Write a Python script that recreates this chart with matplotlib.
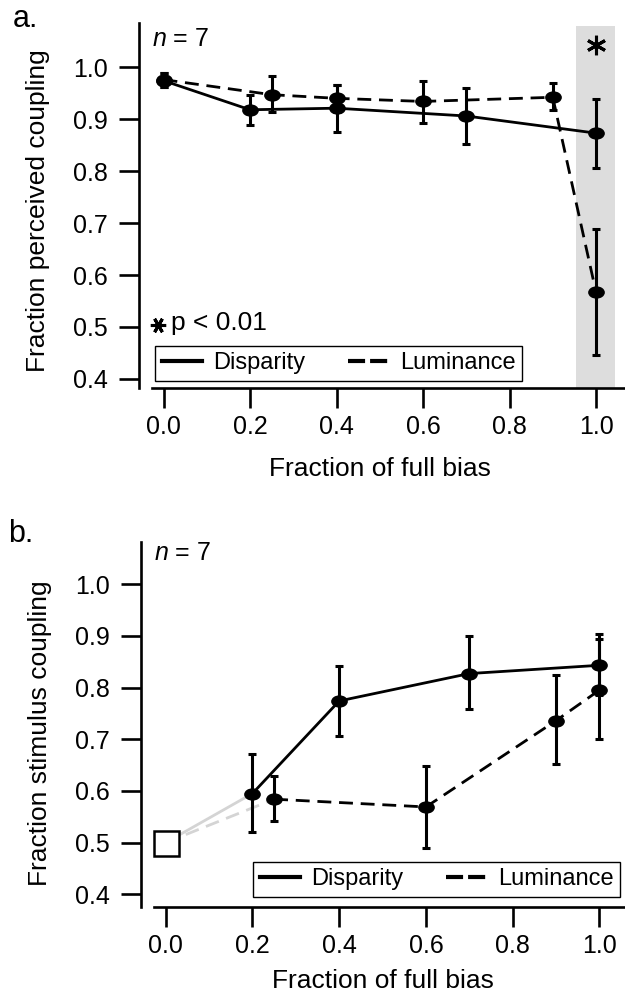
import matplotlib.pyplot as plt
import numpy as np
from matplotlib.lines import Line2D
from matplotlib.path import Path
from matplotlib.transforms import Affine2D

plt.rcParams['font.family'] = ['Liberation Sans', 'DejaVu Sans']
plt.rcParams['mathtext.fontset'] = 'custom'
plt.rcParams['mathtext.it'] = 'Liberation Sans:italic'
plt.rcParams['mathtext.rm'] = 'Liberation Sans'

# panel a: fraction perceived coupling
a_disp_x = [0.0, 0.2, 0.4, 0.7, 1.0]
a_disp_y = [0.974, 0.918, 0.921, 0.906, 0.873]
a_disp_lo = [0.962, 0.889, 0.876, 0.853, 0.806]
a_disp_hi = [0.988, 0.947, 0.966, 0.960, 0.939]

a_lum_x = [0.0, 0.25, 0.4, 0.6, 0.9, 1.0]
a_lum_y = [0.976, 0.947, 0.940, 0.934, 0.942, 0.567]
a_lum_lo = [0.962, 0.913, 0.914, 0.893, 0.918, 0.447]
a_lum_hi = [0.989, 0.982, 0.966, 0.974, 0.970, 0.688]

# panel b: fraction stimulus coupling
b_disp_x = [0.2, 0.4, 0.7, 1.0]
b_disp_y = [0.595, 0.774, 0.827, 0.843]
b_disp_lo = [0.521, 0.707, 0.758, 0.785]
b_disp_hi = [0.671, 0.842, 0.899, 0.903]

b_lum_x = [0.25, 0.6, 0.9, 1.0]
b_lum_y = [0.584, 0.569, 0.736, 0.795]
b_lum_lo = [0.542, 0.489, 0.652, 0.701]
b_lum_hi = [0.629, 0.649, 0.824, 0.893]

chance_x, chance_y = 0.0, 0.5
sig_x = 1.0  # significant condition in panel a

xticks = [0.0, 0.2, 0.4, 0.6, 0.8, 1.0]
yticks = [0.4, 0.5, 0.6, 0.7, 0.8, 0.9, 1.0]
labels = ['Disparity', 'Luminance']

# slightly flattened dot, as in the original figure
ell = Path.unit_circle().transformed(Affine2D().scale(1.4, 1.0))
DASH = (5.0, 2.8)
LW = 2.0


def series(ax, x, y, lo, hi, dashed):
    y = np.array(y)
    err = [y - np.array(lo), np.array(hi) - y]
    ax.errorbar(x, y, yerr=err, fmt='none', ecolor='k', elinewidth=2.2,
                capsize=3.2, capthick=2.2, zorder=3)
    ln, = ax.plot(x, y, color='k', lw=LW, marker=ell, ms=11,
                  mfc='k', mec='k', zorder=4)
    if dashed:
        ln.set_dashes(DASH)


def style(ax, xlim, ylim, off):
    ax.set_xlim(*xlim)
    ax.set_ylim(*ylim)
    for s in ['top', 'right']:
        ax.spines[s].set_visible(False)
    ax.spines['left'].set_position(('outward', off))
    ax.spines['left'].set_linewidth(1.9)
    ax.spines['bottom'].set_linewidth(1.9)
    ax.set_xticks(xticks)
    ax.set_xticklabels(['%.1f' % v for v in xticks])
    ax.set_yticks(yticks)
    ax.set_yticklabels(['%.1f' % v for v in yticks])
    ax.tick_params(axis='both', direction='out', length=14.5, width=1.9,
                   labelsize=18)
    ax.tick_params(axis='y', pad=8)
    ax.tick_params(axis='x', pad=5)


def legend(ax, anchor):
    h = [Line2D([], [], color='k', lw=3),
         Line2D([], [], color='k', lw=3, dashes=(4.1, 1.2))]
    leg = ax.legend(h, labels, loc='lower left', bbox_to_anchor=anchor,
                    ncol=2, fontsize=17, frameon=True, fancybox=False,
                    edgecolor='k', framealpha=1, handlelength=1.7,
                    handletextpad=0.5, columnspacing=1.8, borderpad=0.28,
                    borderaxespad=0)
    leg.get_frame().set_linewidth(1.0)


fig = plt.figure(figsize=(6.25, 9.94), dpi=100)
ax1 = fig.add_axes([0.2432, 0.6097, 0.7568, 0.3672])
ax2 = fig.add_axes([0.2464, 0.0878, 0.7536, 0.3672])

# ---- panel a
style(ax1, (-0.0266, 1.067), (0.3827, 1.085), 9.1)
ax1.fill_between([sig_x - 0.046, sig_x + 0.044], 0.3827, 1.079,
                 color='#dddddd', lw=0, zorder=0)
series(ax1, a_disp_x, a_disp_y, a_disp_lo, a_disp_hi, False)
series(ax1, a_lum_x, a_lum_y, a_lum_lo, a_lum_hi, True)
ax1.plot([sig_x], [1.043], marker=(6, 2, 0), ms=14, mew=2.2, color='k')
ax1.plot([0.013], [0.173], marker=(6, 2, 90), ms=11, mew=2.2, color='k',
         transform=ax1.transAxes, clip_on=False)
ax1.text(0.040, 0.159, 'p < 0.01', transform=ax1.transAxes, fontsize=19,
         va='baseline')
ax1.text(0.0, 0.937, '$n$ = 7', transform=ax1.transAxes, fontsize=18,
         va='baseline')
legend(ax1, (0.0063, 0.0192))
ax1.set_ylabel('Fraction perceived coupling', fontsize=19)
ax1.yaxis.set_label_coords(-0.24, 0.485)
ax1.yaxis.label.set(va='center', ha='center')
ax1.set_xlabel('Fraction of full bias', fontsize=19)
ax1.xaxis.set_label_coords(0.482, -0.241)
ax1.xaxis.label.set_va('baseline')

# ---- panel b
style(ax2, (-0.027, 1.059), (0.376, 1.082), 9.6)
ax2.plot([chance_x, b_disp_x[0]], [chance_y, b_disp_y[0]], color='#d4d4d4',
         lw=LW, zorder=1)
ln, = ax2.plot([chance_x, b_lum_x[0]], [chance_y, b_lum_y[0]],
               color='#d4d4d4', lw=LW, zorder=1)
ln.set_dashes(DASH)
ax2.plot([chance_x], [chance_y], marker='s', ms=18, mfc='white', mec='k',
         mew=1.8, zorder=5, clip_on=False)
series(ax2, b_disp_x, b_disp_y, b_disp_lo, b_disp_hi, False)
series(ax2, b_lum_x, b_lum_y, b_lum_lo, b_lum_hi, True)
ax2.text(0.0, 0.950, '$n$ = 7', transform=ax2.transAxes, fontsize=18,
         va='baseline')
legend(ax2, (0.2102, 0.0274))
ax2.set_ylabel('Fraction stimulus coupling', fontsize=19)
ax2.yaxis.set_label_coords(-0.243, 0.476)
ax2.yaxis.label.set(va='center', ha='center')
ax2.set_xlabel('Fraction of full bias', fontsize=19)
ax2.xaxis.set_label_coords(0.486, -0.222)
ax2.xaxis.label.set_va('baseline')

fig.text(13 / 625, 1 - 27 / 994, 'a.', fontsize=22, va='baseline')
fig.text(8 / 625, 1 - 542 / 994, 'b.', fontsize=22, va='baseline')

fig.savefig('out.png', dpi=100)
